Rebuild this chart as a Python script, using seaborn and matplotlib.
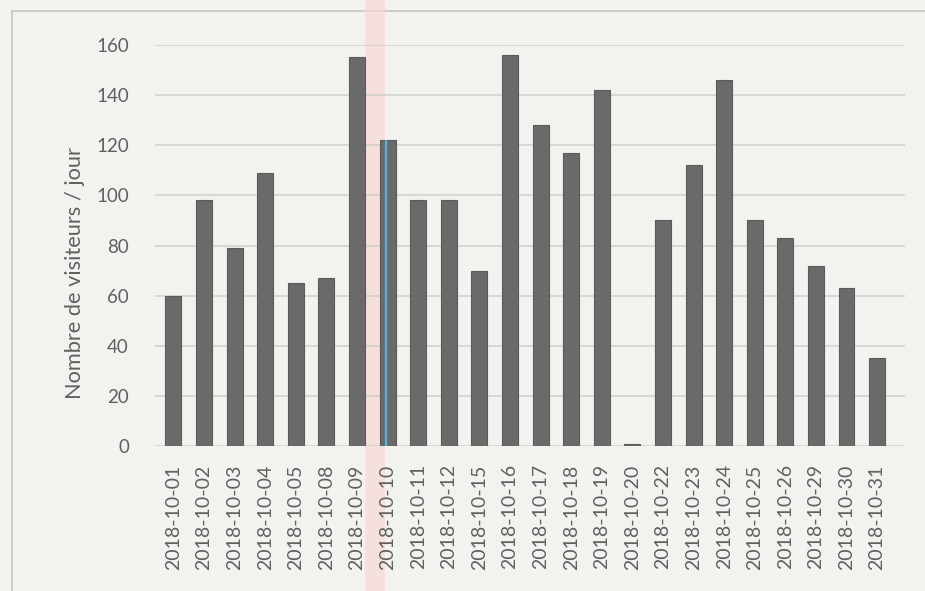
import matplotlib
matplotlib.use("Agg")
import matplotlib.pyplot as plt
from matplotlib.patches import Rectangle
import seaborn as sns
import pandas as pd

# Daily visitor counts, October 2018
dates = [
    "2018-10-01", "2018-10-02", "2018-10-03", "2018-10-04", "2018-10-05",
    "2018-10-08", "2018-10-09", "2018-10-10", "2018-10-11", "2018-10-12",
    "2018-10-15", "2018-10-16", "2018-10-17", "2018-10-18", "2018-10-19",
    "2018-10-20", "2018-10-22", "2018-10-23", "2018-10-24", "2018-10-25",
    "2018-10-26", "2018-10-29", "2018-10-30", "2018-10-31",
]
visitors = [
    60, 98, 79, 109, 65, 67, 155, 122, 98, 98,
    70, 156, 128, 117, 142, 1, 90, 112, 146, 90,
    83, 72, 63, 35,
]
y_ticks = [0, 20, 40, 60, 80, 100, 120, 140, 160]
y_label = "Nombre de visiteurs / jour"
marked_day = "2018-10-10"

df = pd.DataFrame({"date": dates, "visiteurs": visitors})

sns.set_theme(style="white")
plt.rcParams["font.family"] = ["Lato", "DejaVu Sans"]

paper = "#f2f2ee"
text_gray = "#606060"

fig = plt.figure(figsize=(9.25, 5.91), dpi=100, facecolor=paper)
ax = fig.add_axes([0.168, 0.245, 0.810, 0.679])
ax.set_facecolor("none")

sns.barplot(data=df, x="date", y="visiteurs", ax=ax, color="#6a6a6a",
            width=0.52, saturation=1, edgecolor="#5a5a5a", linewidth=0.8,
            zorder=3)

# highlighter stroke on the marked day
i_mark = dates.index(marked_day)
ax.vlines(i_mark - 0.06, 0, visitors[i_mark], color="#4fb4e6", lw=1.6, zorder=4)

ax.set_ylim(0, 160)
ax.set_xlim(-0.59, len(dates) - 0.1)
ax.set_yticks(y_ticks)
ax.yaxis.grid(True, color="#cfcfcb", lw=1.1, zorder=0)
ax.xaxis.grid(False)
for s in ax.spines.values():
    s.set_visible(False)

ax.tick_params(axis="y", length=0, pad=19, labelsize=13.5, labelcolor=text_gray)
ax.tick_params(axis="x", length=0, pad=13, labelsize=14, labelcolor=text_gray)
ax.set_xticks(range(len(dates)))
ax.set_xticklabels(dates, rotation=90)
ax.set_xlabel("")
ax.set_ylabel(y_label, fontsize=15.7, color=text_gray)
ax.yaxis.set_label_coords(-0.094, 0.431)

# chart frame and the pink highlighter band
fig.add_artist(Rectangle((12 / 925, -0.05), 1.1, (591 - 11) / 591 + 0.05,
                         transform=fig.transFigure, fill=False,
                         edgecolor="#c4c4c0", lw=1.2, zorder=-2))
fig.add_artist(Rectangle((365 / 925, 0), 20 / 925, 1,
                         transform=fig.transFigure, facecolor="#f9d9d4",
                         edgecolor="none", alpha=0.7, zorder=-1))

fig.savefig("out.png", dpi=100, facecolor=paper)
